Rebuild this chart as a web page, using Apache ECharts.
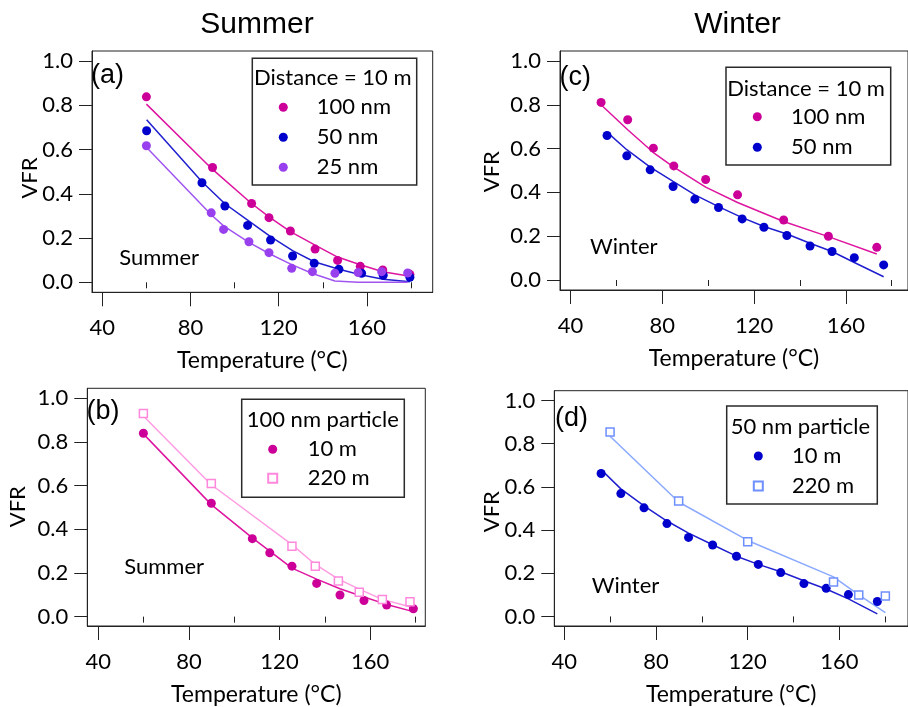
<!DOCTYPE html>
<html>
<head>
<meta charset="utf-8">
<script src="https://cdn.jsdelivr.net/npm/echarts@6/dist/echarts.min.js"></script>
<style>
html,body{margin:0;padding:0;background:#fff;}
#chart{width:908px;height:707px;}
</style>
</head>
<body>
<div id="chart"></div>
<script>
// ---------- data ----------
// Tick labels
const xMajorTicks = [40, 80, 120, 160];
const xMinorTicks = [60, 100, 140, 180];
const yTicks = [0, 0.2, 0.4, 0.6, 0.8, 1.0];

// Panel (a) Summer, distance 10 m
const a_t100 = [60, 90, 107.7, 115.6, 125.3, 136.5, 146.7, 157.0, 167.2, 179.5];
const a_v100 = [0.838, 0.519, 0.356, 0.292, 0.232, 0.150, 0.099, 0.072, 0.056, 0.036];
const a_f100 = [0.805, 0.510, 0.356, 0.296, 0.229, 0.168, 0.114, 0.079, 0.048, 0.027];
const a_t50 = [60.1, 85.2, 95.6, 105.9, 116.3, 126.3, 136.1, 147.3, 157.6, 167.4, 179.5];
const a_v50 = [0.685, 0.450, 0.345, 0.257, 0.191, 0.119, 0.086, 0.059, 0.041, 0.032, 0.023];
const a_f50 = [0.735, 0.454, 0.355, 0.281, 0.206, 0.143, 0.093, 0.059, 0.033, 0.014, 0.003];
const a_t25 = [60, 89.4, 95.0, 106.5, 115.6, 125.9, 135.3, 145.5, 156.0, 166.7, 178.5];
const a_v25 = [0.617, 0.314, 0.239, 0.183, 0.134, 0.063, 0.048, 0.041, 0.044, 0.048, 0.042];
const a_f25 = [0.610, 0.305, 0.255, 0.180, 0.130, 0.080, 0.040, 0.006, 0.0, 0.0, 0.0];

// Panel (b) Summer, 100 nm particle
const b_t10 = [59.9, 89.9, 108.0, 115.7, 125.5, 136.4, 146.7, 157.3, 167.3, 179.1];
const b_v10 = [0.840, 0.519, 0.357, 0.292, 0.231, 0.152, 0.099, 0.074, 0.053, 0.036];
const b_f10 = [0.837, 0.513, 0.361, 0.300, 0.222, 0.172, 0.128, 0.090, 0.056, 0.023];
const b_t220 = [59.9, 89.9, 125.5, 135.8, 146.0, 155.2, 165.4, 177.6];
const b_v220 = [0.930, 0.610, 0.322, 0.231, 0.163, 0.112, 0.079, 0.068];
const b_f220 = [0.919, 0.604, 0.330, 0.239, 0.172, 0.126, 0.079, 0.045];

// Panel (c) Winter, distance 10 m
const c_t100 = [53.3, 64.9, 76.1, 85.0, 98.9, 112.8, 132.9, 152.4, 173.5];
const c_v100 = [0.811, 0.732, 0.602, 0.521, 0.459, 0.389, 0.274, 0.200, 0.149];
const c_f100 = [0.800, 0.686, 0.582, 0.515, 0.424, 0.354, 0.267, 0.198, 0.119];
const c_t50 = [55.9, 64.5, 74.7, 84.7, 94.2, 104.5, 114.8, 124.3, 134.3, 144.4, 154.0, 163.7, 176.5];
const c_v50 = [0.660, 0.567, 0.503, 0.427, 0.369, 0.331, 0.279, 0.241, 0.203, 0.155, 0.130, 0.102, 0.069];
const c_f50 = [0.675, 0.595, 0.515, 0.450, 0.389, 0.335, 0.285, 0.244, 0.210, 0.168, 0.130, 0.080, 0.015];

// Panel (d) Winter, 50 nm particle
const d_t10 = [56.1, 64.7, 74.8, 84.8, 94.2, 104.7, 115.1, 124.6, 134.4, 144.5, 154.2, 163.9, 176.5];
const d_v10 = [0.662, 0.569, 0.503, 0.430, 0.366, 0.331, 0.279, 0.241, 0.203, 0.152, 0.130, 0.101, 0.069];
const d_f10 = [0.680, 0.591, 0.512, 0.442, 0.386, 0.332, 0.279, 0.241, 0.207, 0.165, 0.127, 0.081, 0.012];
const d_t220 = [60.0, 89.9, 120.0, 157.4, 168.4, 180.0];
const d_v220 = [0.854, 0.535, 0.346, 0.160, 0.099, 0.095];
const d_f220 = [0.835, 0.530, 0.352, 0.183, 0.100, 0.017];

// ---------- layout / style ----------
const FONT = 'Lato';
const TXT = '#000';
const AX = '#222';
const SQUARE = 'path://M0,0L10,0L10,10L0,10Z';

const grids = [
  {left: 92, top: 51, width: 340.7, height: 241.3},     // a
  {left: 87.3, top: 388.3, width: 338, height: 238.4},  // b
  {left: 560, top: 51, width: 352, height: 239},        // c
  {left: 554.3, top: 390.7, width: 357.7, height: 238.3} // d
];
const xr = [[35.33, 189.84], [35.14, 184.37], [35.39, 187.11], [35.69, 189.87]];
const yr = [[-0.0452, 1.0452], [-0.0429, 1.0457], [-0.0457, 1.0457], [-0.0444, 1.0457]];

const pairs = (xs, ys) => xs.map((x, i) => [x, ys[i]]);

const xAxes = [], yAxes = [];
grids.forEach((g, i) => {
  xAxes.push({
    type: 'value', gridIndex: i, min: xr[i][0], max: xr[i][1],
    axisLine: {show: true, onZero: false, lineStyle: {color: AX, width: 1}},
    axisTick: {show: true, length: 14, customValues: xMajorTicks, lineStyle: {color: AX, width: 1}},
    axisLabel: {show: true, customValues: xMajorTicks, margin: 25, fontFamily: FONT, fontSize: 22, color: TXT},
    splitLine: {show: false},
    name: 'Temperature (°C)', nameLocation: 'middle', nameGap: 57,
    nameTextStyle: {fontFamily: FONT, fontSize: 23, color: TXT}
  });
  xAxes.push({
    type: 'value', gridIndex: i, min: xr[i][0], max: xr[i][1], position: 'bottom',
    axisLine: {show: false},
    axisTick: {show: true, length: 6, customValues: xMinorTicks, lineStyle: {color: AX, width: 1}},
    axisLabel: {show: false},
    splitLine: {show: false}
  });
  yAxes.push({
    type: 'value', gridIndex: i, min: yr[i][0], max: yr[i][1],
    axisLine: {show: true, onZero: false, lineStyle: {color: AX, width: 1}},
    axisTick: {show: true, length: 13, customValues: yTicks, lineStyle: {color: AX, width: 1}},
    axisLabel: {show: true, customValues: yTicks, margin: 19, fontFamily: FONT, fontSize: 22, color: TXT,
      formatter: v => Number(v).toFixed(1)},
    splitLine: {show: false}
  });
});

const series = [];
function addLine(panel, xs, ys, color) {
  series.push({
    type: 'line', xAxisIndex: panel * 2, yAxisIndex: panel, data: pairs(xs, ys),
    showSymbol: false, symbol: 'none', lineStyle: {color: color, width: 1.5}, z: 2, silent: true
  });
}
function addDots(panel, name, xs, ys, color) {
  series.push({
    type: 'scatter', name: name, xAxisIndex: panel * 2, yAxisIndex: panel, data: pairs(xs, ys),
    symbol: 'circle', symbolSize: 9, itemStyle: {color: color, opacity: 1}, z: 3
  });
}
function addSquares(panel, name, xs, ys, color) {
  series.push({
    type: 'scatter', name: name, xAxisIndex: panel * 2, yAxisIndex: panel, data: pairs(xs, ys),
    symbol: SQUARE, symbolSize: 8, itemStyle: {color: '#fff', borderColor: color, borderWidth: 1.5, opacity: 1}, z: 3
  });
}

const MAG = '#cc0099', MAGL = '#dd159f';
const BLU = '#0000cc', BLUL = '#1f1fcf';
const PUR = '#9940ee', PURL = '#a055f0';
const PNK = '#ff88dd', PNKL = '#ff9ce2';
const LBL = '#6e8fff', LBLL = '#8aa9ff';

// (a)
addLine(0, a_t100, a_f100, MAGL);
addLine(0, a_t50, a_f50, BLUL);
addLine(0, a_t25, a_f25, PURL);
addDots(0, '100 nm|a', a_t100, a_v100, MAG);
addDots(0, '50 nm|a', a_t50, a_v50, BLU);
addDots(0, '25 nm|a', a_t25, a_v25, PUR);
// (b)
addLine(1, b_t10, b_f10, MAGL);
addLine(1, b_t220, b_f220, PNKL);
addDots(1, '10 m|b', b_t10, b_v10, MAG);
addSquares(1, '220 m|b', b_t220, b_v220, PNK);
// (c)
addLine(2, c_t100, c_f100, MAGL);
addLine(2, c_t50, c_f50, BLUL);
addDots(2, '100 nm|c', c_t100, c_v100, MAG);
addDots(2, '50 nm|c', c_t50, c_v50, BLU);
// (d)
addLine(3, d_t10, d_f10, BLUL);
addLine(3, d_t220, d_f220, LBLL);
addDots(3, '10 m|d', d_t10, d_v10, BLU);
addSquares(3, '220 m|d', d_t220, d_v220, LBL);

// markerX: centre of legend symbol, textX: left edge of legend text
function legend(names, markerX, textX, firstY, step, size) {
  const s = size || 9;
  return {
    data: names, orient: 'vertical', left: markerX - s / 2, top: firstY - 11, padding: 0,
    itemWidth: s, itemHeight: s, itemGap: step - 22, selectedMode: false,
    formatter: n => n.split('|')[0],
    textStyle: {fontFamily: FONT, fontSize: 22, color: TXT, lineHeight: 22,
      padding: [0, 0, 0, textX - (markerX + s / 2) - 5]},
    z: 5
  };
}
const legends = [
  legend(['100 nm|a', '50 nm|a', '25 nm|a'], 283.3, 316.7, 107.3, 30),
  legend(['10 m|b', '220 m|b'], 271.7, 306.7, 449.3, 29),
  legend(['100 nm|c', '50 nm|c'], 757.3, 791, 116.7, 30.6),
  legend(['10 m|d', '220 m|d'], 757.3, 791, 456, 30)
];

function txt(x, y, s, size, family, align, rot) {
  return {type: 'text', x: x, y: y, rotation: rot || 0, silent: true, z: 10,
    style: {text: s, fontFamily: family || FONT, fontSize: size, fill: TXT,
      align: align || 'left', verticalAlign: 'middle'}};
}
function box(x, y, w, h) {
  return {type: 'rect', shape: {x: x, y: y, width: w, height: h}, silent: true, z: 1,
    style: {fill: 'none', stroke: '#2a2a2a', lineWidth: 1.5}};
}
const graphic = [
  txt(257, 24.6, 'Summer', 30, 'Liberation Sans', 'center'),
  txt(737.5, 24.6, 'Winter', 30, 'Liberation Sans', 'center'),
  txt(91, 76, '(a)', 27, 'Liberation Sans'),
  txt(86.5, 411.7, '(b)', 27, 'Liberation Sans'),
  txt(559.5, 77.3, '(c)', 27, 'Liberation Sans'),
  txt(555, 418.3, '(d)', 27, 'Liberation Sans'),
  txt(119.3, 258, 'Summer', 22),
  txt(124.3, 566.7, 'Summer', 22),
  txt(590, 247.3, 'Winter', 22),
  txt(591.7, 586, 'Winter', 22),
  txt(30, 178, 'VFR', 22, FONT, 'center', Math.PI / 2),
  txt(18.3, 506.7, 'VFR', 22, FONT, 'center', Math.PI / 2),
  txt(491.7, 171.7, 'VFR', 22, FONT, 'center', Math.PI / 2),
  txt(491.7, 511.7, 'VFR', 22, FONT, 'center', Math.PI / 2),
  box(252.3, 58.3, 164.4, 126.7),
  box(241.7, 399.3, 162.6, 98),
  box(726, 67.3, 164.7, 97.7),
  box(726.7, 406, 150.6, 98),
  txt(254, 78, 'Distance = 10 m', 22),
  txt(246.7, 420, '100 nm particle', 22),
  txt(727.3, 89.3, 'Distance = 10 m', 22),
  txt(730.7, 426.7, '50 nm particle', 22)
];

const chart = echarts.init(document.getElementById('chart'), null, {renderer: 'canvas'});
chart.setOption({
  animation: false,
  backgroundColor: '#fff',
  grid: grids.map(g => Object.assign({show: true, borderColor: AX, borderWidth: 1, backgroundColor: 'transparent', containLabel: false}, g)),
  xAxis: xAxes,
  yAxis: yAxes,
  legend: legends,
  series: series,
  graphic: graphic
});
</script>
</body>
</html>
